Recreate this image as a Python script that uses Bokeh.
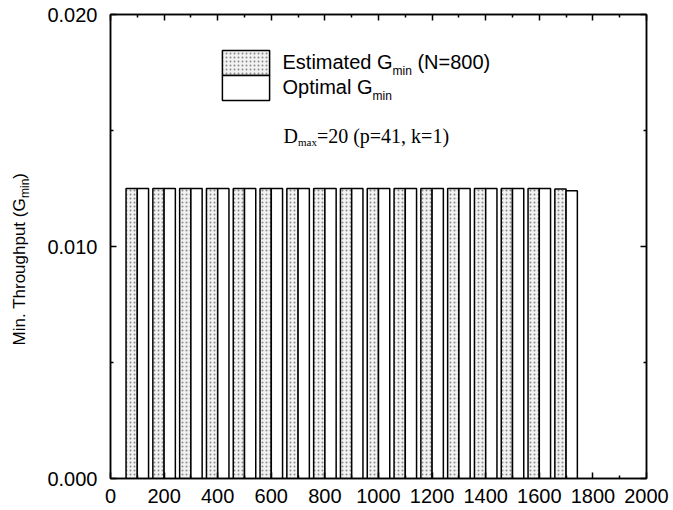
import math
from bokeh.plotting import figure
from bokeh.layouts import row
from bokeh.models import (LinearAxis, FixedTicker, PrintfTickFormatter, Label,
                          Range1d, Legend, LegendItem, ColumnDataSource)
from bokeh.transform import dodge
from bokeh.core.properties import value
from bokeh.embed import file_html
from bokeh.resources import INLINE

# ---- data ----
n_values = [100, 200, 300, 400, 500, 600, 700, 800, 900, 1000,
            1100, 1200, 1300, 1400, 1500, 1600, 1700]
estimated_gmin = [0.0125, 0.0125, 0.0125, 0.0125, 0.0125, 0.0125, 0.0125, 0.0125, 0.0125,
                  0.0125, 0.0125, 0.0125, 0.0125, 0.0125, 0.0125, 0.0125, 0.01248]
optimal_gmin = [0.0125, 0.0125, 0.0125, 0.0125, 0.0125, 0.0125, 0.0125, 0.0125, 0.0125,
                0.0125, 0.0125, 0.0125, 0.0125, 0.0125, 0.0125, 0.0125, 0.0124]
x_major_ticks = [0, 200, 400, 600, 800, 1000, 1200, 1400, 1600, 1800, 2000]
x_minor_ticks = [100, 300, 500, 700, 900, 1100, 1300, 1500, 1700, 1900]
y_major_ticks = [0.0, 0.010, 0.020]
y_minor_ticks = [0.005, 0.015]

SANS = "Liberation Sans"
SERIF = "Liberation Serif"

# approximate glyph widths (per 1000 em) for placing subscripts
HELV = {' ': 278, '(': 333, ')': 333, '.': 278, '=': 584, 'E': 667, 'G': 778, 'M': 833,
        'N': 722, 'O': 778, 'T': 611, 'a': 556, 'd': 556, 'e': 556, 'g': 556, 'h': 556,
        'i': 222, 'l': 222, 'm': 833, 'n': 556, 'o': 556, 'p': 556, 'r': 333, 's': 500,
        't': 278, 'u': 556, ',': 278, 'k': 500}
for c in "0123456789":
    HELV[c] = 556
TIMES = {'D': 722, '=': 564, ' ': 250, '(': 333, ')': 333, 'p': 500, ',': 250, 'k': 500,
         'm': 778, 'a': 444, 'x': 500}
for c in "0123456789":
    TIMES[c] = 500


def tw(s, size, table):
    return sum(table.get(c, 556) for c in s) * size / 1000.0


TOTAL_W, TOTAL_H = 673, 510
LAB_W = 40
BASE_CORR = 0.36  # baseline correction (em) observed for text placement
BORDER_BOTTOM = 32
FB = TOTAL_H - BORDER_BOTTOM - 0.3   # approx. frame bottom on the page


def fy(img_y):
    """page y (from top) -> frame-relative y (from frame bottom)"""
    return FB - img_y


# ---------------- main plot ----------------
src = ColumnDataSource(dict(n=n_values, est=estimated_gmin, opt=optimal_gmin))

p = figure(width=TOTAL_W - LAB_W, height=TOTAL_H, x_range=Range1d(0, 2000),
           y_range=Range1d(0, 0.02), output_backend="svg", toolbar_location=None,
           min_border_left=70, min_border_right=27, min_border_top=14,
           min_border_bottom=BORDER_BOTTOM)
p.xgrid.visible = False
p.ygrid.visible = False
p.outline_line_color = "black"
p.outline_line_width = 1.5
p.background_fill_color = "white"
p.border_fill_color = "white"

tick_font_size = "20px"


def style_axis(ax, ticks, minor, show_labels):
    ax.ticker = FixedTicker(ticks=ticks, minor_ticks=minor)
    ax.major_tick_in = 6
    ax.major_tick_out = 0
    ax.minor_tick_in = 3
    ax.minor_tick_out = 0
    ax.major_tick_line_width = 1.5
    ax.minor_tick_line_width = 1.5
    ax.axis_line_width = 1.5
    ax.axis_line_color = "black"
    ax.major_tick_line_color = "black"
    ax.minor_tick_line_color = "black"
    ax.major_label_text_font = SANS
    if show_labels:
        ax.major_label_text_color = "black"
        ax.major_label_text_font_size = tick_font_size
    else:
        ax.major_label_text_color = None
        ax.major_label_text_font_size = "1px"
        ax.major_label_standoff = 0


style_axis(p.xaxis[0], x_major_ticks, x_minor_ticks, True)
p.xaxis[0].major_label_standoff = 10
style_axis(p.yaxis[0], y_major_ticks, y_minor_ticks, True)
p.yaxis[0].formatter = PrintfTickFormatter(format="%.3f")
p.yaxis[0].major_label_standoff = 13

top_ax = LinearAxis()
style_axis(top_ax, x_major_ticks, x_minor_ticks, False)
p.add_layout(top_ax, "above")
right_ax = LinearAxis()
style_axis(right_ax, y_major_ticks, y_minor_ticks, False)
p.add_layout(right_ax, "right")

bar_w = 42
r_est = p.vbar(x=dodge('n', -bar_w / 2, range=p.x_range), top='est', width=bar_w, source=src,
               fill_color="#f2f2f2", hatch_pattern="dot", hatch_color="#8a8a8a",
               hatch_scale=4, hatch_weight=1.2,
               line_color="black", line_width=1.5)
r_opt = p.vbar(x=dodge('n', bar_w / 2, range=p.x_range), top='opt', width=bar_w, source=src,
               fill_color="white", line_color="black", line_width=1.5)


# legend swatches: one Legend per item so the two boxes touch
# (Bokeh insets area glyphs by 10% of the glyph box)
def swatch(renderer, loc):
    lg = Legend(items=[LegendItem(label=value(" "), renderers=[renderer])],
                location=loc, orientation="vertical",
                glyph_width=59, glyph_height=31, label_height=31, spacing=0,
                padding=0, margin=0, border_line_color=None,
                background_fill_alpha=0, label_standoff=0,
                label_text_font_size="1px", label_text_color=None)
    p.add_layout(lg, "center")


swatch(r_est, (106, fy(75) - 3.1))
swatch(r_opt, (106, fy(100) - 3.1))

LEG = 20
SUB = 12


def add_text(x, y, text, size, font=SANS):
    p.add_layout(Label(x=x, y=y + BASE_CORR * size, x_units="screen", y_units="screen",
                       text=text, text_font=font, text_font_size=f"{size}px",
                       text_color="black", text_baseline="alphabetic",
                       text_align="left"))


# legend texts (baselines given as page y)
lx = 172
s1 = "Estimated G"
add_text(lx, fy(68), s1, LEG)
w1 = tw(s1, LEG, HELV)
add_text(lx + w1, fy(75), "min", SUB)
add_text(lx + w1 + tw("min", SUB, HELV) + tw(" ", LEG, HELV), fy(68), "(N=800)", LEG)
s2 = "Optimal G"
add_text(lx, fy(93), s2, LEG)
w2 = tw(s2, LEG, HELV)
add_text(lx + w2, fy(100), "min", SUB)

# annotation D_max=20 (p=41, k=1)
DS = 20
DSUB = 11
dx = 173
add_text(dx, fy(142), "D", DS, SERIF)
wd = tw("D", DS, TIMES)
add_text(dx + wd, fy(145), "max", DSUB, SERIF)
add_text(dx + wd + tw("max", DSUB, TIMES), fy(142), "=20 (p=41, k=1)", DS, SERIF)

# ---------------- rotated y-axis label (separate narrow canvas) ----------------
lab = figure(title=None, frame_width=LAB_W, frame_height=TOTAL_H,
             x_range=Range1d(0, LAB_W), y_range=Range1d(0, TOTAL_H),
             output_backend="svg", toolbar_location=None,
             x_axis_type=None, y_axis_type=None, min_border=0)
lab.xgrid.visible = False
lab.ygrid.visible = False
lab.outline_line_color = None
lab.background_fill_color = "white"
lab.border_fill_color = "white"

YL = 17
g_end = 326.5          # where "...(G" ends along the label (canvas y from bottom)
base_x = 25.0          # baseline of the main label text
sub_base_x = 28.5      # baseline of the subscript
ang = math.pi / 2
lab.text(x=[base_x - BASE_CORR * YL], y=[g_end], text=["Min. Throughput (G"], angle=ang,
         text_font=value(SANS), text_font_size=f"{YL}px", text_color="black",
         text_align="right", text_baseline="alphabetic")
lab.text(x=[sub_base_x - BASE_CORR * SUB], y=[g_end], text=["min"], angle=ang,
         text_font=value(SANS), text_font_size=f"{SUB}px", text_color="black",
         text_align="left", text_baseline="alphabetic")
lab.text(x=[base_x - BASE_CORR * YL], y=[g_end + tw("min", SUB, HELV)], text=[")"], angle=ang,
         text_font=value(SANS), text_font_size=f"{YL}px", text_color="black",
         text_align="left", text_baseline="alphabetic")

layout = row(lab, p, spacing=0)
open("out.html", "w").write(file_html(layout, INLINE))
